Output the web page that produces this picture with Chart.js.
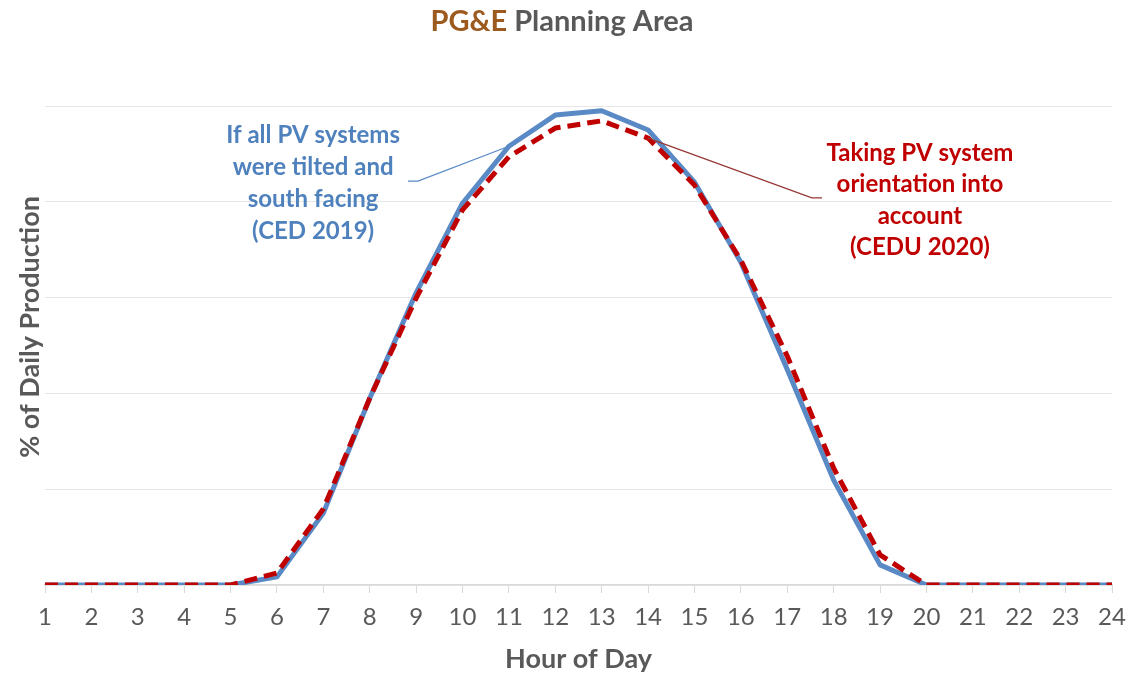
<!DOCTYPE html>
<html><head><meta charset="utf-8">
<script src="https://cdn.jsdelivr.net/npm/chart.js@4.4.1/dist/chart.umd.min.js"></script>
<style>html,body{margin:0;padding:0;background:#fff;}#wrap{width:1130px;height:675px;}</style>
</head><body><div id="wrap"><canvas id="c" width="1130" height="675"></canvas></div>
<script>
const hours = ['1','2','3','4','5','6','7','8','9','10','11','12','13','14','15','16','17','18','19','20','21','22','23','24'];
const ced2019 = [0,0,0,0,0,0.17,1.50,3.90,6.10,7.97,9.16,9.81,9.90,9.50,8.41,6.74,4.50,2.19,0.42,0,0,0,0,0];
const cedu2020 = [0,0,0,0,0,0.25,1.59,3.90,5.99,7.83,8.94,9.54,9.69,9.33,8.35,6.78,4.78,2.44,0.63,0,0,0,0,0];
const titleLead = 'PG&E';
const titleRest = ' Planning Area';
const yTitle = '% of Daily Production';
const xTitle = 'Hour of Day';
const blueNote = ['If all PV systems','were tilted and','south facing','(CED 2019)'];
const redNote = ['Taking PV system','orientation into','account','(CEDU 2020)'];

const FONT = 'Lato, "Open Sans", sans-serif';
const BLUE = '#5A8AC6', RED = '#C00000', GRAY = '#595959';

const overlay = {
  id: 'overlay',
  afterDraw(chart) {
    const ctx = chart.ctx, xs = chart.scales.x, ys = chart.scales.y;
    const px = h => xs.left + (h - 1) * (xs.right - xs.left) / (hours.length - 1);
    ctx.save();
    // title
    ctx.font = 'bold 29px ' + FONT;
    ctx.textBaseline = 'middle';
    const w1 = ctx.measureText(titleLead).width, w2 = ctx.measureText(titleRest).width;
    let tx = 562 - (w1 + w2) / 2;
    ctx.textAlign = 'left';
    ctx.fillStyle = '#9C5A1E'; ctx.fillText(titleLead, tx, 22);
    ctx.fillStyle = GRAY; ctx.fillText(titleRest, tx + w1, 22);
    // y title
    ctx.save();
    ctx.translate(30, 327); ctx.rotate(-Math.PI / 2);
    ctx.font = 'bold 27px ' + FONT; ctx.textAlign = 'center'; ctx.fillStyle = GRAY;
    ctx.fillText(yTitle, 0, 0);
    ctx.restore();
    // leader lines
    ctx.lineWidth = 1.3;
    ctx.strokeStyle = BLUE;
    ctx.beginPath();
    ctx.moveTo(px(8.825), ys.getPixelForValue(8.43));
    ctx.lineTo(px(9.04), ys.getPixelForValue(8.43));
    ctx.lineTo(px(11), ys.getPixelForValue(ced2019[10]));
    ctx.stroke();
    ctx.strokeStyle = '#953735';
    ctx.beginPath();
    ctx.moveTo(px(14), ys.getPixelForValue(cedu2020[13]));
    ctx.lineTo(px(17.53), ys.getPixelForValue(8.08));
    ctx.lineTo(px(17.75), ys.getPixelForValue(8.08));
    ctx.stroke();
    // notes
    ctx.font = 'bold 24px ' + FONT; ctx.textAlign = 'center';
    ctx.fillStyle = '#4F81BD';
    blueNote.forEach((t, i) => ctx.fillText(t, px(6.78), ys.getPixelForValue(9.39) + i * 32));
    ctx.fillStyle = RED;
    redNote.forEach((t, i) => ctx.fillText(t, px(19.86), ys.getPixelForValue(9.02) + i * 31.5));
    ctx.restore();
  }
};

new Chart(document.getElementById('c'), {
  type: 'line',
  data: {
    labels: hours,
    datasets: [
      { label: 'CEDU 2020', data: cedu2020, borderColor: RED, borderWidth: 5, borderDash: [13, 7], pointRadius: 0, tension: 0, order: 0, borderJoinStyle: 'round' },
      { label: 'CED 2019', data: ced2019, borderColor: BLUE, borderWidth: 5, pointRadius: 0, tension: 0, order: 1, borderJoinStyle: 'round' }
    ]
  },
  options: {
    responsive: false, devicePixelRatio: 1, animation: false,
    layout: { padding: { top: 106, right: 18, left: 0, bottom: 0 } },
    plugins: { legend: { display: false }, tooltip: { enabled: false } },
    scales: {
      x: {
        offset: false,
        afterFit: s => { s.height = 90; s.paddingRight = 0; s.paddingLeft = 0; },
        border: { display: true, color: '#D9D9D9', width: 1.5 },
        grid: { drawOnChartArea: false, drawTicks: true, tickLength: 8, color: '#D9D9D9' },
        ticks: { color: GRAY, font: { family: FONT, size: 24 }, padding: 10, maxRotation: 0, autoSkip: false },
        title: { display: true, text: xTitle, color: GRAY, font: { family: FONT, size: 27, weight: 'bold' }, padding: { top: 0, bottom: 0 } }
      },
      y: {
        min: 0, max: 10,
        afterFit: s => { s.width = 45; },
        border: { display: false },
        grid: { color: '#E6E6E6', drawTicks: false },
        ticks: { display: false, stepSize: 2 }
      }
    }
  },
  plugins: [overlay]
});
</script></body></html>
